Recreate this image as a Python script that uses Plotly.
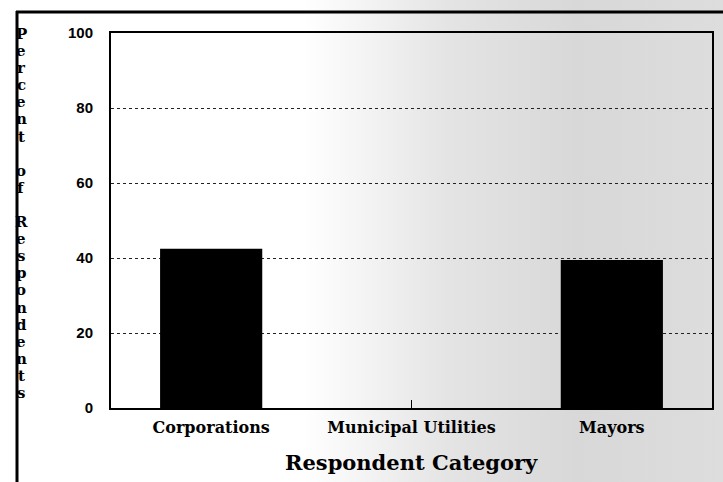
import plotly.graph_objects as go

categories = ["Corporations", "Municipal Utilities", "Mayors"]
percent_values = [42.5, 0, 39.5]
y_tick_values = [0, 20, 40, 60, 80, 100]
y_title_text = "Percent of Respondents"
x_title_text = "Respondent Category"

W, H = 723, 482

fig = go.Figure()

# scanned-paper background tone (white on the left, stippled grey on the right)
fig.add_trace(go.Scatter(
    x=[0, 1, 1, 0, 0], y=[0, 0, 1, 1, 0],
    mode="lines", line=dict(width=0), fill="toself",
    fillgradient=dict(type="horizontal",
                      colorscale=[[0, "#ffffff"], [0.42, "#ffffff"], [0.62, "#e4e4e4"],
                                  [0.8, "#d8d8d8"], [1, "#dddddd"]]),
    hoverinfo="skip", showlegend=False, xaxis="x", yaxis="y"))

fig.add_trace(go.Bar(
    x=categories, y=percent_values, width=0.51,
    marker=dict(color="#000000", line=dict(width=0)),
    showlegend=False, xaxis="x2", yaxis="y2"))

# stacked vertical y-axis title, one letter per line
letters = []
for word_i, word in enumerate(y_title_text.split(" ")):
    if word_i > 0:
        letters.append(" ")
    letters.extend(list(word))
first_px, last_px = 34, 393
step = (last_px - first_px) / (len(letters) - 1)
for i, c in enumerate(letters):
    if c == " ":
        continue
    fig.add_annotation(
        xref="x", yref="y", x=21 / W, y=1 - (first_px + i * step) / H,
        xanchor="center", yanchor="middle", text=c, showarrow=False,
        font=dict(family="DejaVu Serif", size=15, color="#000", weight="bold"))

fig.add_annotation(
    xref="x", yref="y", x=411 / W, y=1 - 462 / H, xanchor="center", yanchor="middle",
    text=x_title_text, showarrow=False,
    font=dict(family="DejaVu Serif", size=21, color="#000", weight="bold"))

# outer frame of the page
fig.add_shape(type="line", xref="x", yref="y", x0=16 / W, x1=1, y0=1 - 12 / H, y1=1 - 12 / H,
              line=dict(color="#000", width=3))
fig.add_shape(type="line", xref="x", yref="y", x0=17 / W, x1=17 / W, y0=1 - 11 / H, y1=0,
              line=dict(color="#000", width=3))

l, r, t, b = 111, 11, 33, 74
fig.update_layout(
    width=W, height=H,
    margin=dict(l=0, r=0, t=0, b=0, pad=0, autoexpand=False),
    paper_bgcolor="white", plot_bgcolor="rgba(0,0,0,0)",
    xaxis=dict(domain=[0, 1], range=[0, 1], visible=False, fixedrange=True),
    yaxis=dict(domain=[0, 1], range=[0, 1], visible=False, fixedrange=True),
    xaxis2=dict(domain=[l / W, 1 - r / W], anchor="y2",
                showline=True, linecolor="#000", linewidth=2, mirror=True,
                ticks="inside", ticklen=8, tickcolor="#000", tickwidth=1,
                showgrid=False, automargin=False, ticklabelstandoff=4,
                tickfont=dict(family="DejaVu Serif", size=16, color="#000", weight="bold")),
    yaxis2=dict(domain=[b / H, 1 - t / H], anchor="x2", range=[0, 100],
                tickvals=y_tick_values,
                showline=True, linecolor="#000", linewidth=2, mirror=True,
                showgrid=True, gridcolor="#222", griddash="dot", gridwidth=1,
                ticks="", ticklabelstandoff=13, automargin=False,
                zeroline=False,
                tickfont=dict(family="Liberation Sans", size=15, color="#000", weight="bold")),
)

fig.write_html(
    "out.html",
    config={"displayModeBar": False},
    post_script="document.body.style.margin='0';document.body.style.overflow='hidden';",
)
